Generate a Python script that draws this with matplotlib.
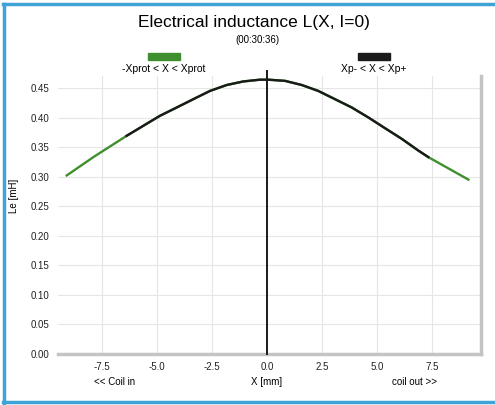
import matplotlib.pyplot as plt
from matplotlib.patches import Rectangle
from matplotlib.lines import Line2D

plt.rcParams['font.family'] = ['Liberation Sans', 'DejaVu Sans']

# inductance profile
x_mm = [-9.10, -7.89, -6.38, -5.62, -4.86, -4.10, -3.35, -2.59, -1.83, -1.08, -0.32,
        0.06, 0.82, 1.58, 2.33, 3.09, 3.85, 4.61, 5.36, 6.12, 6.88, 7.33, 8.24, 9.15]
le_mh = [0.302, 0.333, 0.369, 0.386, 0.403, 0.417, 0.431, 0.445, 0.455, 0.461, 0.464,
         0.464, 0.462, 0.455, 0.445, 0.431, 0.417, 0.400, 0.382, 0.364, 0.344, 0.333, 0.314, 0.295]
xp_lo, xp_hi = -6.4, 7.4

x_ticks = [-7.5, -5.0, -2.5, 0.0, 2.5, 5.0, 7.5]
y_ticks = [0.00, 0.05, 0.10, 0.15, 0.20, 0.25, 0.30, 0.35, 0.40, 0.45]

green = '#3f8f2f'
black = '#1a1a1a'

fig = plt.figure(figsize=(4.95, 4.05), dpi=100)
ax = fig.add_axes([0.117, 0.126, 0.855, 0.686])

# whole range in green, measuring window in black on top
ax.plot(x_mm, le_mh, color=green, lw=1.7, zorder=3, solid_joinstyle='round')
xb = [x for x in x_mm if xp_lo <= x <= xp_hi]
yb = [y for x, y in zip(x_mm, le_mh) if xp_lo <= x <= xp_hi]
ax.plot(xb, yb, color=black, lw=1.7, zorder=4, solid_joinstyle='round')
ax.axvline(0.0, color=black, lw=1.4, ymax=1.02, clip_on=False, zorder=5)

ax.set_xlim(-9.5, 9.73)
ax.set_ylim(0, 0.47)
ax.set_xticks(x_ticks)
ax.set_xticklabels(['%.1f' % v for v in x_ticks])
ax.set_yticks(y_ticks)
ax.set_yticklabels(['%.2f' % v for v in y_ticks])
ax.tick_params(length=0, labelsize=7, colors='#222222', pad=6)
ax.grid(True, color='#e6e6e6', lw=0.8)
ax.set_axisbelow(True)
for s in ['left', 'top']:
    ax.spines[s].set_visible(False)
for s in ['bottom', 'right']:
    ax.spines[s].set_color('#c4c4c4')
    ax.spines[s].set_linewidth(2.5)

fig.text(14 / 495, 1 - 196 / 405, 'Le [mH]', fontsize=7, rotation=90, ha='center', va='center')
fig.text(267 / 495, 1 - 382 / 405, 'X [mm]', fontsize=7, ha='center', va='center')
fig.text(115 / 495, 1 - 382 / 405, '<< Coil in', fontsize=7, ha='center', va='center')
fig.text(415 / 495, 1 - 382 / 405, 'coil out >>', fontsize=7, ha='center', va='center')

fig.text(254 / 495, 1 - 22 / 405, 'Electrical inductance L(X, I=0)', fontsize=12.5, ha='center', va='center')
fig.text(257 / 495, 1 - 40 / 405, '(00:30:36)', fontsize=7, ha='center', va='center')

# legend
for cx, col, lab in [(164, green, '-Xprot < X < Xprot'), (374, black, 'Xp- < X < Xp+')]:
    fig.patches.append(Rectangle(((cx - 16) / 495, 1 - 60 / 405), 32 / 495, 7 / 405,
                                 transform=fig.transFigure, color=col))
    fig.text(cx / 495, 1 - 69 / 405, lab, fontsize=7.5, ha='center', va='center')

# blue frame on top, left and bottom of the panel
frame = '#3fa3d5'
fig.lines.append(Line2D([4 / 495, 4 / 495], [2 / 405, 401 / 405], transform=fig.transFigure, color=frame, lw=2.5))
fig.lines.append(Line2D([3 / 495, 495 / 495], [401 / 405, 401 / 405], transform=fig.transFigure, color=frame, lw=2.5))
fig.lines.append(Line2D([3 / 495, 495 / 495], [3 / 405, 3 / 405], transform=fig.transFigure, color=frame, lw=2.5))

fig.savefig('out.png', dpi=100)
